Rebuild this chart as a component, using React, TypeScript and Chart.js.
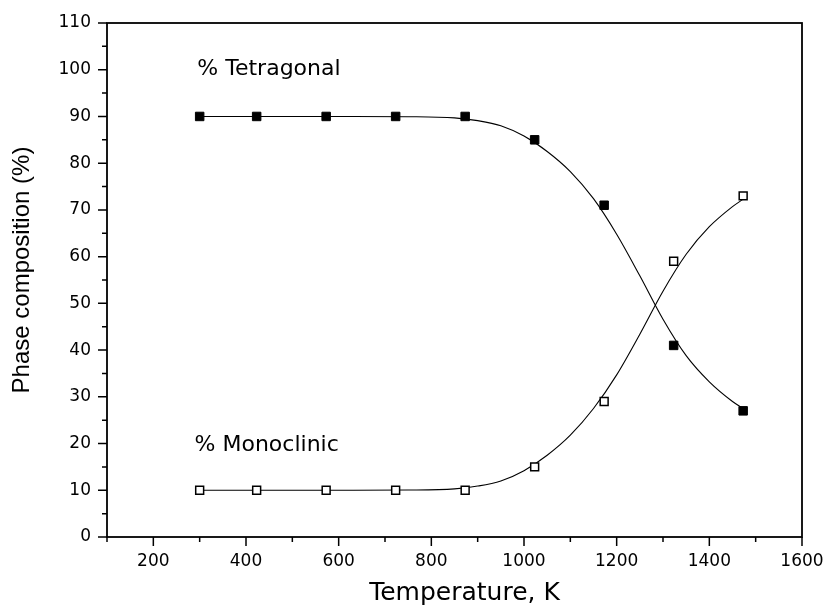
import React, { useEffect, useRef } from "react";
import { Chart, registerables } from "chart.js";

Chart.register(...registerables);

// Measured points (temperature in K, phase composition in %)
const tempK = [300, 423, 573, 723, 873, 1023, 1173, 1323, 1473];
const tetragonal = [90, 90, 90, 90, 90, 85, 71, 41, 27];
const monoclinic = [10, 10, 10, 10, 10, 15, 29, 59, 73];

// Fitted curves
const fitTemp = [300, 450, 600, 750, 850, 900, 950, 1000, 1050, 1100, 1150, 1200, 1250, 1300, 1350, 1400, 1450, 1473];
const fitTetragonal = [90.0, 90.0, 90.0, 89.95, 89.7, 89.1, 88.0, 85.8, 82.5, 78.2, 72.4, 64.8, 55.9, 46.6, 38.8, 33.2, 29.0, 27.5];
const fitMonoclinic = [10.0, 10.0, 10.0, 10.05, 10.3, 10.9, 12.0, 14.2, 17.5, 21.8, 27.5, 34.7, 43.4, 52.6, 60.5, 66.4, 70.7, 72.3];

const X_TITLE = "Temperature, K";
const Y_TITLE = "Phase composition (%)";

const FONT_H = '"DejaVu Sans", Verdana, sans-serif';
const FONT_V = '"Liberation Sans", Arial, Helvetica, sans-serif';

const labels = [
  { text: "% Tetragonal", x: 295, y: 100.2 },
  { text: "% Monoclinic", x: 289, y: 19.6 },
];

const framePlugin = {
  id: "frame",
  afterDraw(chart: any) {
    const { ctx, chartArea: a, scales } = chart;
    const xs = scales.x;
    const ys = scales.y;
    ctx.save();
    ctx.strokeStyle = "#000";
    ctx.lineWidth = 1.5;
    ctx.beginPath();
    xs.ticks.forEach((t: any) => {
      const px = xs.getPixelForValue(t.value);
      const len = t.value % 200 === 0 ? 9 : 5;
      ctx.moveTo(px, a.bottom);
      ctx.lineTo(px, a.bottom + len);
    });
    ys.ticks.forEach((t: any) => {
      const py = ys.getPixelForValue(t.value);
      const len = t.value % 10 === 0 ? 9 : 5;
      ctx.moveTo(a.left, py);
      ctx.lineTo(a.left - len, py);
    });
    ctx.stroke();
    ctx.lineWidth = 1.8;
    ctx.strokeRect(a.left, a.top, a.right - a.left, a.bottom - a.top);

    ctx.fillStyle = "#000";
    ctx.textBaseline = "middle";
    // in-plot labels
    ctx.font = `22px ${FONT_H}`;
    ctx.textAlign = "left";
    labels.forEach((l) => {
      ctx.fillText(l.text, xs.getPixelForValue(l.x), ys.getPixelForValue(l.y));
    });
    // axis titles
    ctx.textAlign = "center";
    ctx.font = `25px ${FONT_H}`;
    ctx.fillText(X_TITLE, (a.left + a.right) / 2 + 10, chart.height - 18);
    ctx.translate(22, (a.top + a.bottom) / 2 - 10);
    ctx.rotate(-Math.PI / 2);
    ctx.font = `24px ${FONT_V}`;
    ctx.fillText(Y_TITLE, 0, 0);
    ctx.restore();
  },
};

export default function App() {
  const ref = useRef<HTMLCanvasElement | null>(null);
  useEffect(() => {
    if (!ref.current) return;
    const chart = new Chart(ref.current, {
      type: "scatter",
      data: {
        datasets: [
          {
            label: "Tetragonal",
            data: tempK.map((x, i) => ({ x, y: tetragonal[i] })),
            showLine: false,
            pointStyle: "rect",
            pointRadius: 6,
            pointBackgroundColor: "#000",
            pointBorderColor: "#000",
            pointBorderWidth: 1,
            order: 0,
          },
          {
            label: "Monoclinic",
            data: tempK.map((x, i) => ({ x, y: monoclinic[i] })),
            showLine: false,
            pointStyle: "rect",
            pointRadius: 5.6,
            pointBackgroundColor: "#fff",
            pointBorderColor: "#000",
            pointBorderWidth: 1.5,
            order: 0,
          },
          {
            label: "Tetragonal fit",
            data: fitTemp.map((x, i) => ({ x, y: fitTetragonal[i] })),
            showLine: true,
            pointRadius: 0,
            borderColor: "#000",
            borderWidth: 1.1,
            cubicInterpolationMode: "monotone",
            order: 1,
          },
          {
            label: "Monoclinic fit",
            data: fitTemp.map((x, i) => ({ x, y: fitMonoclinic[i] })),
            showLine: true,
            pointRadius: 0,
            borderColor: "#000",
            borderWidth: 1.1,
            cubicInterpolationMode: "monotone",
            order: 1,
          },
        ],
      },
      options: {
        animation: false,
        responsive: true,
        maintainAspectRatio: false,
        events: [],
        layout: { padding: { left: 0, top: 23, right: 24, bottom: 0 } },
        plugins: { legend: { display: false }, tooltip: { enabled: false } },
        scales: {
          x: {
            type: "linear",
            min: 100,
            max: 1600,
            grid: { display: false, drawTicks: false },
            border: { display: false },
            ticks: {
              stepSize: 100,
              autoSkip: false,
              maxRotation: 0,
              padding: 14,
              color: "#000",
              font: { family: FONT_H, size: 17 },
              callback: (v: any) => (Number(v) % 200 === 0 ? String(v) : ""),
            },
            title: { display: false },
            afterFit: (s: any) => {
              s.height = 74;
              s.paddingLeft = 0;
              s.paddingRight = 0;
            },
          },
          y: {
            type: "linear",
            min: 0,
            max: 110,
            grid: { display: false, drawTicks: false },
            border: { display: false },
            ticks: {
              stepSize: 5,
              autoSkip: false,
              padding: 16,
              color: "#000",
              font: { family: FONT_H, size: 17 },
              callback: (v: any) => (Number(v) % 10 === 0 ? String(v) : ""),
            },
            title: { display: false },
            afterFit: (s: any) => {
              s.width = 107;
              s.paddingTop = 0;
              s.paddingBottom = 0;
            },
          },
        },
      },
      plugins: [framePlugin],
    });
    return () => chart.destroy();
  }, []);
  return (
    <div style={{ position: "absolute", left: 0, top: 0, width: 826, height: 611, background: "#fff" }}>
      <canvas ref={ref} />
    </div>
  );
}
